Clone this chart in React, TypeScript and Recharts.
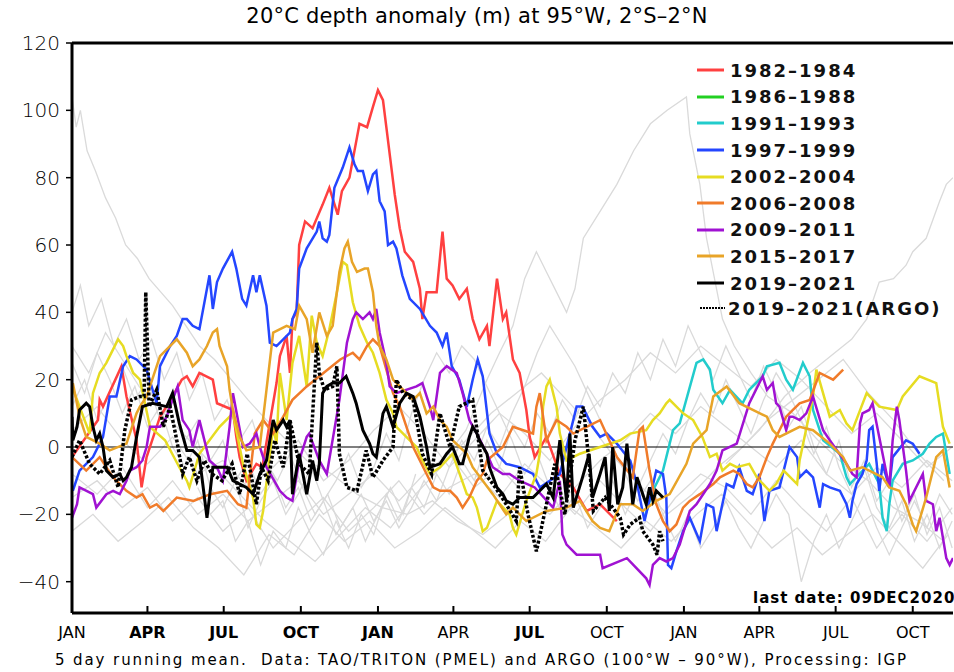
import React from "react"
import { LineChart, Line, XAxis, YAxis, ReferenceLine } from "recharts"

// x = day since JAN 1 of the first year, y = anomaly (m)
type Pt = [number, number]

const xTicks = [0, 90, 181, 273, 365, 455, 546, 638, 730, 820, 911, 1003]
const xLabels = ["JAN", "APR", "JUL", "OCT", "JAN", "APR", "JUL", "OCT", "JAN", "APR", "JUL", "OCT"]
const xBold = [false, true, true, true, true, false, true, false, false, false, false, false]
const yTicks = [-40, -20, 0, 20, 40, 60, 80, 100, 120]

const red1982: Pt[] = [[0,-3],[31,8],[33,14],[37,12],[59,24],[65,15],[77,2],[83,-12],[89,-3],[105,9],[120,15],[131,20],[137,21],[144,18],[152,22],[168,20],[173,13],[192,11],[196,3],[200,-3],[208,-10],[220,-5],[227,-6],[244,19],[248,27],[256,33],[260,22],[263,38],[268,40],[271,60],[278,67],[287,65],[299,72],[307,77],[317,69],[322,76],[331,80],[343,96],[352,95],[359,101],[365,106],[371,103],[375,95],[381,83],[385,75],[391,65],[397,58],[407,55],[415,47],[418,38],[423,46],[435,46],[442,64],[447,50],[454,48],[462,44],[471,47],[478,38],[486,32],[495,36],[498,30],[507,50],[514,38],[518,40],[526,26],[534,22],[542,11],[546,3],[552,-3],[566,3],[582,-8],[598,-12],[614,-19],[630,-17],[650,-22]]

const green1986: Pt[] = []

const cyan1991: Pt[] = [[683,-21],[693,-13],[705,-7],[717,5],[725,7],[745,25],[753,26],[761,23],[765,17],[776,13],[785,17],[800,13],[808,17],[824,21],[829,24],[844,25],[852,20],[860,17],[872,25],[880,21],[884,11],[896,2],[916,-2],[924,-9],[928,-11],[951,-5],[963,-11],[967,-21],[972,-25],[975,-17],[979,-10],[991,-5],[1003,-4],[1015,-2],[1023,1],[1031,3],[1039,4],[1047,-8]]

const blue1997: Pt[] = [[1,-13],[9,-7],[25,-3],[37,3],[45,15],[53,15],[61,24],[69,27],[77,26],[89,23],[101,13],[105,24],[117,30],[125,33],[132,38],[137,38],[144,36],[152,35],[164,51],[168,41],[173,49],[180,53],[191,58],[196,53],[203,44],[208,42],[216,51],[220,46],[224,51],[232,42],[236,31],[244,30],[260,34],[263,38],[268,41],[271,53],[280,59],[292,64],[295,67],[299,62],[304,61],[307,63],[313,77],[323,83],[331,89],[337,84],[341,82],[347,82],[353,76],[359,81],[363,82],[367,73],[373,70],[377,60],[383,61],[387,59],[394,51],[403,44],[415,41],[427,36],[435,34],[442,30],[447,34],[453,24],[462,20],[471,12],[478,20],[484,26],[490,21],[498,4],[507,-2],[518,-5],[534,-6],[550,-8],[558,-12],[582,-8],[602,12],[609,12],[621,6],[630,3],[638,4],[650,1],[666,-4],[675,-12],[683,-22],[697,-7],[705,-8],[709,-15],[711,-35],[715,-36],[721,-31],[729,-25],[737,-21],[749,-28],[757,-17],[765,-18],[769,-25],[781,-11],[789,-12],[796,-6],[805,-13],[812,-14],[820,-8],[826,-22],[832,-13],[844,-12],[856,0],[865,-3],[868,-9],[876,-7],[884,-9],[892,-18],[896,-11],[904,-12],[916,-13],[924,-17],[928,-21],[931,-16],[936,-11],[943,-8],[948,-4],[951,5],[955,6],[960,-5],[963,-13],[967,-5],[975,-12],[979,-3],[995,2],[1003,1],[1011,-2]]

const yellow2002: Pt[] = [[0,18],[9,12],[21,4],[25,16],[33,22],[41,25],[49,29],[55,32],[61,30],[65,27],[73,22],[81,20],[93,6],[111,2],[128,-6],[137,-10],[140,-12],[152,-2],[176,6],[192,10],[204,-5],[216,-15],[220,-23],[224,-24],[228,-19],[240,6],[244,1],[248,22],[256,8],[263,25],[271,33],[280,18],[286,39],[292,31],[299,27],[307,35],[316,46],[323,55],[328,54],[335,43],[343,36],[352,31],[359,28],[367,22],[375,14],[383,10],[387,6],[403,2],[411,0],[418,-4],[427,-8],[439,-6],[454,-2],[471,-14],[478,-15],[483,-18],[490,-25],[495,-24],[507,-16],[522,-20],[526,-24],[530,-26],[542,-16],[554,-8],[558,-2],[562,12],[566,18],[570,20],[578,12],[582,4],[590,-4],[606,-2],[630,0],[654,2],[666,4],[685,5],[693,8],[701,10],[709,13],[713,14],[729,10],[741,8],[752,3],[761,-3],[769,-2],[776,-7],[785,-5],[793,-6],[808,-5],[817,-9],[832,-13],[840,-11],[849,-7],[865,-11],[868,-4],[884,15],[888,23],[904,9],[916,11],[924,7],[931,5],[948,16],[963,12],[984,11],[991,15],[1011,21],[1031,19],[1039,6],[1047,1]]

const orange2006: Pt[] = [[0,-3],[17,-7],[33,-3],[49,-9],[57,-11],[65,-13],[77,-15],[84,-14],[93,-18],[101,-17],[109,-19],[125,-15],[145,-16],[165,-14],[185,-13],[198,-17],[208,-18],[218,4],[228,8],[240,4],[252,9],[263,14],[280,18],[300,22],[320,26],[335,28],[343,26],[352,30],[359,32],[367,30],[375,23],[383,16],[391,12],[399,6],[407,0],[415,-4],[423,-8],[431,-12],[439,-13],[451,-13],[459,-15],[466,-18],[474,-15],[483,-10],[490,-8],[495,-4],[514,0],[522,4],[526,6],[550,4],[554,12],[558,16],[566,2],[578,8],[590,6],[598,4],[630,8],[650,-3],[669,-9],[677,5],[681,6],[689,-7],[697,-17],[705,-22],[713,-25],[721,-23],[729,-18],[737,-16],[749,-14],[765,-11],[773,-9],[781,-8],[789,-7],[796,-8],[805,-11],[812,-12],[820,-9],[829,-3],[836,1],[844,5],[852,9],[860,11],[868,13],[880,14],[892,22],[908,20],[920,23]]

const purple2009: Pt[] = [[0,-21],[6,-17],[9,-12],[25,-14],[29,-18],[41,-14],[49,-13],[57,-14],[65,-10],[69,-7],[77,-6],[84,-4],[89,0],[93,6],[105,6],[113,9],[117,12],[123,16],[126,18],[132,8],[140,5],[144,0],[152,8],[164,-4],[173,-6],[180,-10],[188,6],[192,16],[204,0],[212,1],[220,4],[224,0],[232,-6],[248,-13],[256,-15],[263,-16],[271,-4],[280,3],[283,4],[295,-4],[304,-8],[319,14],[328,31],[335,38],[339,40],[347,38],[355,40],[359,38],[363,41],[367,34],[375,25],[379,18],[387,16],[411,18],[418,19],[427,12],[431,8],[439,22],[447,24],[459,22],[466,16],[474,8],[483,4],[495,-2],[502,-6],[514,-8],[522,-8],[534,-10],[552,-12],[574,-18],[582,-10],[585,-26],[590,-29],[602,-32],[630,-32],[633,-36],[662,-33],[685,-39],[689,-41],[693,-35],[701,-33],[709,-34],[717,-33],[725,-29],[737,-19],[745,-17],[761,-11],[769,-7],[776,-1],[793,1],[808,13],[824,21],[829,17],[836,19],[840,13],[844,12],[852,5],[856,9],[860,9],[868,8],[876,10],[884,15],[896,5],[904,2],[924,-5],[931,-8],[936,-9],[940,7],[943,10],[951,11],[955,13],[963,3],[975,-12],[979,2],[984,12],[987,8],[995,-7],[999,-16],[1015,-8],[1019,-16],[1027,-17],[1031,-25],[1035,-21],[1043,-33],[1047,-35],[1051,-33]]

const amber2015: Pt[] = [[1,19],[9,9],[17,3],[33,1],[45,-1],[65,1],[77,10],[81,12],[89,15],[105,27],[113,29],[125,32],[137,28],[144,24],[152,26],[161,30],[168,34],[173,35],[176,30],[185,24],[188,17],[192,11],[200,3],[208,-1],[224,0],[232,17],[240,34],[256,36],[266,35],[271,42],[280,38],[287,28],[295,40],[304,33],[311,36],[319,52],[325,59],[329,61],[334,55],[340,52],[349,53],[353,53],[359,46],[363,36],[367,30],[375,26],[383,20],[391,18],[407,14],[415,16],[423,10],[431,12],[439,8],[447,6],[454,2],[471,-2],[478,-6],[502,-14],[518,-20],[526,-18],[542,-22],[566,-19],[590,-18],[606,-16],[621,-22],[630,-24],[641,-25],[654,-17],[669,-17],[681,-19],[697,-16],[713,-14],[733,-5],[741,1],[757,5],[765,15],[781,18],[796,13],[829,9],[836,5],[844,3],[868,6],[884,5],[904,1],[920,-3],[928,-7],[943,-6],[967,-9],[975,-12],[987,-13],[995,-17],[1003,-23],[1007,-25],[1019,-15],[1027,-7],[1031,-3],[1039,-1],[1047,-12]]

const black2019: Pt[] = [[0,9],[1,2],[6,6],[9,11],[17,13],[21,12],[25,6],[29,2],[33,4],[37,0],[41,-7],[49,-9],[57,-8],[61,-10],[65,-9],[71,-6],[77,3],[84,12],[96,13],[113,12],[120,16],[128,7],[137,-1],[144,-1],[152,-3],[156,-11],[161,-21],[164,-15],[168,-6],[185,-6],[192,-10],[208,-12],[216,-14],[224,-8],[232,-4],[240,8],[244,5],[252,8],[256,6],[260,8],[263,-14],[271,-2],[280,-14],[287,-4],[292,-10],[295,-5],[299,16],[304,18],[311,19],[319,19],[327,21],[335,16],[339,13],[347,5],[355,1],[359,-2],[363,-3],[371,10],[375,12],[379,9],[383,6],[391,13],[399,16],[407,15],[415,9],[423,0],[427,-6],[439,-5],[447,-2],[454,0],[462,-5],[466,-5],[474,3],[478,6],[483,4],[486,2],[495,-2],[498,-6],[507,-12],[514,-14],[518,-16],[526,-17],[534,-15],[550,-15],[566,-11],[574,-15],[582,2],[590,-16],[594,4],[598,-18],[609,-9],[617,-2],[621,-15],[630,-8],[636,-3],[641,-19],[645,0],[651,-17],[657,-12],[662,1],[669,-17],[674,-9],[685,-17],[689,-12],[693,-16],[697,-13],[705,-15]]

const argo2019: Pt[] = [[0,-3],[9,2],[21,-5],[33,-8],[45,-4],[55,-12],[63,5],[71,14],[81,15],[86,15],[88,46],[90,30],[92,12],[101,17],[109,6],[117,12],[125,2],[132,-8],[140,-3],[149,-10],[158,-4],[167,-8],[179,-10],[191,-5],[200,-14],[209,-2],[220,-17],[226,-6],[234,-10],[242,2],[252,-6],[260,8],[271,-5],[283,-8],[292,31],[295,22],[301,17],[311,18],[316,24],[319,-2],[328,-12],[340,-13],[351,-1],[359,-9],[371,-4],[383,0],[387,20],[395,16],[407,14],[418,-2],[429,-8],[439,10],[451,0],[462,12],[478,14],[490,-7],[505,-12],[518,-17],[530,-22],[534,-6],[544,-20],[554,-31],[566,-17],[576,-5],[588,-20],[600,2],[610,12],[617,-5],[622,-19],[636,-15],[654,-21],[658,-26],[666,-23],[677,-21],[681,-25],[693,-29],[698,-32],[701,-25],[705,-28]]

// background years (light grey)
const grayA: Pt[] = [[0,104],[5,95],[10,100],[18,88],[28,82],[40,74],[52,68],[64,60],[78,56],[92,50],[106,46],[120,42],[136,36],[152,30],[170,26],[190,20],[210,14],[232,8],[256,2],[280,-4],[310,-8],[340,-14],[370,-18],[400,-20],[430,-16],[460,-22],[490,-26],[520,-20]]
const grayB: Pt[] = [[440,-5],[470,5],[495,20],[510,28],[526,36],[540,50],[554,58],[566,52],[578,46],[590,40],[600,47],[610,62],[630,70],[650,78],[670,88],[690,96],[710,100],[733,104],[737,93],[749,78],[757,62],[776,38],[790,30],[810,22],[830,15],[860,10],[890,2],[920,-5],[950,-10],[980,-18],[1010,-22],[1040,-28]]
const grayC: Pt[] = [[780,-5],[820,5],[850,15],[880,22],[910,28],[930,32],[948,38],[963,49],[980,50],[995,54],[1003,58],[1019,62],[1035,73],[1043,78],[1051,80]]
const grayD: Pt[] = [[0,-15],[30,-10],[60,-18],[90,-12],[120,-22],[150,-15],[180,-25],[210,-18],[240,-30],[270,-22],[300,-15],[330,-25],[360,-18],[390,-10],[420,-20],[450,-12],[480,-8],[510,-15],[540,-5],[570,-12],[600,-20],[630,-10],[660,-18],[690,-25],[720,-15],[750,-8],[780,-12],[810,-20],[840,-10],[870,-18],[900,-25],[930,-15],[960,-30],[990,-20],[1020,-28],[1050,-18]]
const grayE: Pt[] = [[0,-25],[25,-20],[55,-28],[85,-22],[115,-15],[145,-24],[175,-30],[205,-38],[235,-26],[265,-32],[295,-20],[325,-28],[355,-22],[385,-30],[415,-25],[445,-18],[475,-24],[505,-30],[535,-22],[565,-28],[595,-18],[625,-24],[655,-30],[685,-22],[715,-28],[745,-20],[775,-14],[805,-22],[835,-30],[865,-24],[895,-32],[925,-26],[955,-20],[985,-28],[1015,-36],[1045,-26]]
const grayF: Pt[] = [[0,5],[30,12],[60,2],[90,-5],[120,3],[150,-8],[180,-4],[210,-12],[240,-6],[270,2],[300,-10],[330,-4],[360,5],[390,12],[420,4],[450,-6],[480,2],[510,10],[540,4],[570,-4],[600,6],[630,14],[660,20],[690,28],[720,22],[750,30],[780,24],[810,18],[840,26],[870,20],[900,12],[930,4],[960,10],[990,2],[1020,-6],[1050,0]]
const grayG: Pt[] = [[0,-8],[30,-14],[60,-6],[90,-18],[120,-10],[150,-20],[180,-14],[210,-22],[240,-16],[270,-10],[300,-20],[330,-14],[360,-8],[390,-16],[420,-8],[450,-2],[480,-12],[510,-6],[540,-14],[570,-20],[600,-12],[630,-4],[660,2],[690,10],[720,4],[750,12],[780,6],[810,0],[840,-6],[870,2],[900,-8],[930,-14],[960,-6],[990,-12],[1020,-4],[1050,-10]]
const grayH: Pt[] = [[0,30],[20,22],[40,34],[60,26],[80,18],[110,10],[140,2],[170,-6],[200,-14],[230,-22],[260,-28],[290,-34],[320,-26],[350,-18],[380,-24],[410,-14],[440,-6],[470,2],[500,10],[530,16],[560,22],[590,14],[620,6],[650,-4],[680,-12],[710,-20],[740,-14],[770,-6],[800,0],[830,8],[860,14],[890,20],[920,26],[950,16],[980,8],[1010,-2],[1040,-10]]
const grayI: Pt[] = [[150,-12],[165,-20],[180,-16],[195,-28],[210,-22],[225,-35],[240,-25],[255,-30],[270,-18],[285,-26],[300,-32],[315,-22],[330,-30],[345,-20],[360,-26],[375,-14],[390,-22],[405,-12],[420,-18],[435,-8],[450,-14],[465,-4],[480,-10],[495,2],[510,-6],[525,6],[540,0],[555,10],[570,4],[585,14],[600,8],[615,18],[630,12],[645,22],[660,16],[675,28],[690,20],[705,32],[720,24],[735,36],[750,28],[765,20],[780,30],[795,22],[810,14],[825,24],[840,16],[855,6],[870,12],[885,0],[900,-8],[915,2],[930,-12],[945,-4],[960,-16],[975,-10],[990,-22],[1005,-14],[1020,-26],[1035,-18],[1050,-30]]
const grayJ: Pt[] = [[0,12],[15,20],[30,8],[45,16],[60,24],[75,14],[90,20],[105,8],[120,14],[135,2],[150,8],[165,-4],[180,2],[195,-10],[210,-4],[225,-14],[240,-8],[255,-18],[270,-12],[285,-22],[300,-16],[315,-26],[330,-20],[345,-14],[360,-22],[375,-16],[390,-24],[405,-18],[420,-10],[435,-16],[450,-6],[465,2],[480,-4],[495,6],[510,0],[525,10],[540,18],[555,28],[570,36],[585,30],[600,24],[615,16],[630,8],[645,0],[660,-8],[675,-16],[690,-10],[705,-20],[720,-28],[735,-20],[750,-30],[765,-24],[780,-16],[795,-24],[810,-30],[825,-22],[840,-14],[855,-20],[870,-40],[885,-28],[900,-20],[915,-30],[930,-22],[945,-14],[960,-24],[975,-32],[990,-24],[1005,-16],[1020,-24],[1035,-14],[1050,-20]]
const grayK: Pt[] = [[0,25],[15,16],[30,28],[45,20],[60,10],[75,18],[90,6],[105,12],[120,0],[135,-6],[150,2],[165,-12],[180,-18],[195,-10],[210,-24],[225,-16],[240,-10],[255,-20],[270,-14],[285,-6],[300,-16],[315,-10],[330,-2],[345,-12],[360,-6],[375,4],[390,-4],[405,10],[420,20],[435,28],[450,22],[465,30],[480,26],[495,18],[510,10],[525,2],[540,-8],[555,-2],[570,-12],[585,-20],[600,-14],[615,-24],[630,-18],[645,-10],[660,-20],[675,-12],[690,-4],[705,4],[720,-2],[735,8],[750,16],[765,10],[780,20],[795,12],[810,4],[825,14],[840,22],[855,16],[870,8],[885,-2],[900,6],[915,-6],[930,-14],[945,-6],[960,-18],[975,-24],[990,-16],[1005,-28],[1020,-20],[1035,-30],[1050,-22]]
const grayL: Pt[] = [[0,40],[10,48],[20,36],[35,44],[50,30],[65,38],[80,26],[95,32],[110,20],[125,28],[140,14],[155,22],[170,8],[185,14],[200,2],[215,8],[230,-4],[245,-10],[260,-2],[275,-12],[290,-20],[305,-14],[320,-24],[335,-18],[350,-28],[365,-20],[380,-12],[395,-20],[410,-8]]

const grays = [grayA, grayB, grayC, grayD, grayE, grayF, grayG, grayH, grayI, grayJ, grayK, grayL]

const series = [
  { name: "1982–1984", color: "#ff4040", pts: red1982 },
  { name: "1986–1988", color: "#22d022", pts: green1986 },
  { name: "1991–1993", color: "#22cccc", pts: cyan1991 },
  { name: "1997–1999", color: "#2446ff", pts: blue1997 },
  { name: "2002–2004", color: "#e6dc22", pts: yellow2002 },
  { name: "2006–2008", color: "#f07b2a", pts: orange2006 },
  { name: "2009–2011", color: "#a012d2", pts: purple2009 },
  { name: "2015–2017", color: "#e8a428", pts: amber2015 },
  { name: "2019–2021", color: "#000000", pts: black2019 },
]

const toRows = (pts: Pt[]) => pts.map(([d, v]) => ({ d, v }))

const font = "DejaVu Sans"

function XTick(props: any) {
  const { x, y, index } = props
  return (
    <g>
      <line x1={x} x2={x} y1={y} y2={y - 7} stroke="#000" strokeWidth={2} />
      <text x={x} y={y + 25} textAnchor="middle" fontSize={16} fontFamily={font}
        fontWeight={xBold[index] ? 700 : 400} fill="#000">{xLabels[index]}</text>
    </g>
  )
}

function LegendBox() {
  return (
    <div style={{ position: "absolute", left: 695, top: 57, fontFamily: font, fontSize: 18, fontWeight: 700, letterSpacing: 2, color: "#111", whiteSpace: "nowrap" }}>
      {series.map((s) => (
        <div key={s.name} style={{ display: "flex", alignItems: "center", height: 26.6 }}>
          <svg width={35} height={6}><line x1={2} x2={29} y1={3} y2={3} stroke={s.color} strokeWidth={3} /></svg>
          <span>{s.name}</span>
        </div>
      ))}
      <div style={{ display: "flex", alignItems: "center", height: 24 }}>
        <svg width={33} height={6}><line x1={5} x2={30} y1={3} y2={3} stroke="#000" strokeWidth={2} strokeDasharray="2 1" /></svg>
        <span>2019–2021(ARGO)</span>
      </div>
    </div>
  )
}

export default function App() {
  return (
    <div style={{ position: "absolute", left: 0, top: 0, width: 954, height: 672, background: "#fff", fontFamily: font }}>
      <div style={{ position: "absolute", left: 0, width: 954, top: 4, textAlign: "center", fontSize: 21, fontWeight: 400, letterSpacing: 0.2 }}>
        20°C depth anomaly (m) at 95°W, 2°S–2°N
      </div>
      <LineChart width={954} height={672} margin={{ top: 43, right: 1, bottom: 29, left: 0 }}>
        <XAxis dataKey="d" type="number" domain={[0, 1051]} allowDataOverflow ticks={xTicks} interval={0}
          height={30} tickSize={0} tickMargin={0} tick={<XTick />} tickLine={false}
          axisLine={{ stroke: "#000", strokeWidth: 3 }} />
        <YAxis type="number" domain={[-49.3, 120]} allowDataOverflow ticks={yTicks} interval={0} width={72}
          tickSize={6} tickMargin={6} tickLine={{ stroke: "#000", strokeWidth: 1.5 }}
          axisLine={{ stroke: "#000", strokeWidth: 3 }}
          tickFormatter={(v: number) => (v < 0 ? "−" + Math.abs(v) : String(v))}
          tick={{ fontSize: 20, fill: "#000", fontFamily: font, fontWeight: 300 }} />
        <ReferenceLine y={120} stroke="#000" strokeWidth={3} />
        {grays.map((g, i) => (
          <Line key={"g" + i} data={toRows(g)} dataKey="v" stroke="#dadada" strokeWidth={1.3}
            dot={false} isAnimationActive={false} legendType="none" />
        ))}
        <ReferenceLine y={0} stroke="#000" strokeWidth={1.2} />
        {series.map((s) => (
          <Line key={s.name} name={s.name} data={toRows(s.pts)} dataKey="v" stroke={s.color}
            strokeWidth={s.color === "#000000" ? 3 : 2.5} dot={false} isAnimationActive={false} />
        ))}
        <Line name="2019–2021(ARGO)" data={toRows(argo2019)} dataKey="v" stroke="#000" strokeWidth={3.5}
          strokeDasharray="3 2" dot={false} isAnimationActive={false} />
      </LineChart>
      <LegendBox />
      <div style={{ position: "absolute", left: 753, top: 589, fontSize: 15, fontWeight: 700, letterSpacing: 1, whiteSpace: "nowrap" }}>
        last date: 09DEC2020
      </div>
      <div style={{ position: "absolute", left: 55, top: 651, fontSize: 15, letterSpacing: 1.9, whiteSpace: "pre" }}>
        5 day running mean.  Data: TAO/TRITON (PMEL) and ARGO (100°W – 90°W), Processing: IGP
      </div>
    </div>
  )
}
